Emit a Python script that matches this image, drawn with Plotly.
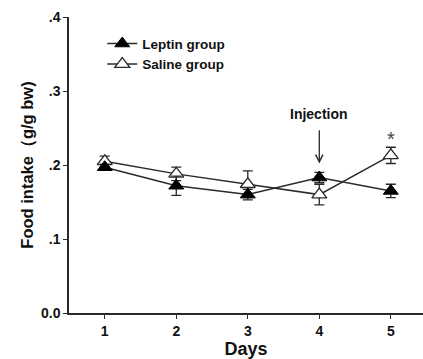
import plotly.graph_objects as go

days = [1, 2, 3, 4, 5]
leptin = [0.197, 0.172, 0.160, 0.183, 0.165]
leptin_err = [0.004, 0.013, 0.007, 0.007, 0.009]
saline = [0.205, 0.188, 0.174, 0.160, 0.213]
saline_err = [0.007, 0.009, 0.018, 0.014, 0.011]
y_ticks = [0.0, 0.1, 0.2, 0.3, 0.4]
y_ticklabels = ["0.0", ".1", ".2", ".3", ".4"]

font_family = "Liberation Sans, Arial, sans-serif"
ink = "#2a2a2a"

fig = go.Figure()
fig.add_trace(go.Scatter(
    x=days, y=saline, name="<b>Saline group</b>", mode="lines+markers",
    line=dict(color=ink, width=1.5),
    marker=dict(symbol="triangle-up", size=13, color="white", line=dict(color=ink, width=1.3)),
    error_y=dict(type="data", array=saline_err, color=ink, thickness=1.3, width=5),
))
fig.add_trace(go.Scatter(
    x=days, y=leptin, name="<b>Leptin group</b>", mode="lines+markers",
    line=dict(color=ink, width=1.5),
    marker=dict(symbol="triangle-up", size=13, color="black", line=dict(color="black", width=1)),
    error_y=dict(type="data", array=leptin_err, color=ink, thickness=1.3, width=5),
))

# Injection arrow (tip just above day-4 markers)
fig.add_annotation(x=4, y=0.202, ax=4, ay=0.249, xref="x", yref="y", axref="x", ayref="y",
                   showarrow=True, arrowhead=5, arrowsize=1.1, arrowwidth=1.3, arrowcolor=ink, text="")
fig.add_annotation(x=4, y=0.256, xref="x", yref="y", text="<b>Injection</b>", showarrow=False,
                   yanchor="bottom", font=dict(size=14, color="#111", family=font_family))
fig.add_annotation(x=5, y=0.217, xref="x", yref="y", text="*", showarrow=False,
                   yanchor="bottom", font=dict(size=20, color="#444", family=font_family))

fig.update_layout(
    width=423, height=359,
    margin=dict(l=69, r=0, t=17, b=46),
    paper_bgcolor="white", plot_bgcolor="white",
    font=dict(family=font_family, color="#111"),
    showlegend=True,
    legend=dict(x=0.094, y=0.962, xanchor="left", yanchor="top", traceorder="reversed",
                bgcolor="rgba(0,0,0,0)", font=dict(size=13.5, family=font_family),
                itemwidth=30, tracegroupgap=0),
    xaxis=dict(range=[0.5, 5.45], tickvals=days, ticktext=[f"<b>{d}</b>" for d in days],
               showline=True, linecolor=ink, linewidth=1.5, ticks="outside", ticklen=4,
               tickcolor=ink, showgrid=False, zeroline=False,
               tickfont=dict(size=14, family=font_family),
               title=dict(text="<b>Days</b>", font=dict(size=18, family=font_family), standoff=5)),
    yaxis=dict(range=[0, 0.4], tickvals=y_ticks, ticktext=[f"<b>{t}</b>" for t in y_ticklabels],
               showline=True, linecolor=ink, linewidth=1.5, ticks="outside", ticklen=4,
               tickcolor=ink, showgrid=False, zeroline=False,
               tickfont=dict(size=14, family=font_family),
               title=dict(text="<b>Food intake（g/g bw)</b>", font=dict(size=16.5, family=font_family), standoff=3)),
)

fig.write_html("out.html", config={"displayModeBar": False},
               post_script="document.body.style.margin='0px';")
